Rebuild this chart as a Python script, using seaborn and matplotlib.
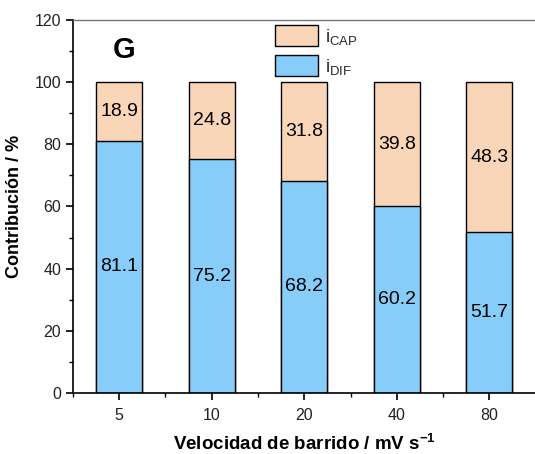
import matplotlib
matplotlib.use("Agg")
import matplotlib.pyplot as plt
import seaborn as sns
import pandas as pd
from matplotlib.ticker import MultipleLocator, FixedLocator
from matplotlib.patches import Patch

categories = ["5", "10", "20", "40", "80"]
i_dif = [81.1, 75.2, 68.2, 60.2, 51.7]
i_cap = [18.9, 24.8, 31.8, 39.8, 48.3]

sns.set_theme(style="white")
plt.rcParams["font.family"] = ["Liberation Sans", "DejaVu Sans"]
plt.rcParams["mathtext.fontset"] = "custom"
plt.rcParams["mathtext.rm"] = "Liberation Sans"
plt.rcParams["mathtext.it"] = "Liberation Sans:italic"
plt.rcParams["mathtext.bf"] = "Liberation Sans:bold"

cap_color = "#FAD6B8"
dif_color = "#86CDFA"

df = pd.DataFrame({"vel": categories, "dif": i_dif, "cap": i_cap})
df["total"] = df["dif"] + df["cap"]

fig = plt.figure(figsize=(5.35, 4.54), dpi=100)
ax = fig.add_axes([0.1364, 0.1344, 0.8646, 0.8216])

sns.barplot(data=df, x="vel", y="total", order=categories, color=cap_color,
            width=0.5, edgecolor="black", linewidth=1.0, saturation=1, ax=ax)
sns.barplot(data=df, x="vel", y="dif", order=categories, color=dif_color,
            width=0.5, edgecolor="black", linewidth=1.0, saturation=1, ax=ax)

for i, (d, c) in enumerate(zip(i_dif, i_cap)):
    ax.text(i, d / 2, f"{d:.1f}", ha="center", va="center", fontsize=14, color="black")
    ax.text(i, d + c / 2, f"{c:.1f}", ha="center", va="center", fontsize=14, color="black")

ax.set_xlim(-0.5, 4.5)
ax.set_ylim(0, 120)
ax.yaxis.set_major_locator(MultipleLocator(20))
ax.yaxis.set_minor_locator(MultipleLocator(10))
ax.xaxis.set_minor_locator(FixedLocator([-0.5, 0.5, 1.5, 2.5, 3.5]))

ax.spines["right"].set_visible(False)
ax.spines["top"].set_color("#777777")
ax.spines["top"].set_linewidth(1.0)
for s in ["left", "bottom"]:
    ax.spines[s].set_color("black")
    ax.spines[s].set_linewidth(1.2)

ax.tick_params(axis="both", which="major", direction="out", length=5, width=1.2,
               color="black", labelsize=11.5, labelcolor="#222222", bottom=True, left=True)
ax.tick_params(axis="both", which="minor", direction="out", length=3, width=1.0,
               color="black", bottom=True, left=True)
ax.tick_params(axis="x", which="major", pad=6)

ax.set_xlabel("Velocidad de barrido / mV s$^{\\mathbf{-1}}$", fontsize=13.5,
              fontweight="bold", labelpad=8, color="black")
ax.set_ylabel("Contribución / %", fontsize=13, fontweight="bold", labelpad=8, color="black")

ax.text(0.05, 110.5, "G", fontsize=21, fontweight="bold", ha="center", va="center", color="black")

handles = [Patch(facecolor=cap_color, edgecolor="black", linewidth=1.0),
           Patch(facecolor=dif_color, edgecolor="black", linewidth=1.0)]
ax.legend(handles, ["i$_{\\mathrm{CAP}}$", "i$_{\\mathrm{DIF}}$"], loc="upper left",
          bbox_to_anchor=(0.436, 0.987), frameon=False, fontsize=13.5,
          handlelength=2.3, handleheight=1.4, handletextpad=0.4, labelspacing=0.42,
          borderpad=0.0, borderaxespad=0.0)

fig.savefig("out.png", dpi=100)
